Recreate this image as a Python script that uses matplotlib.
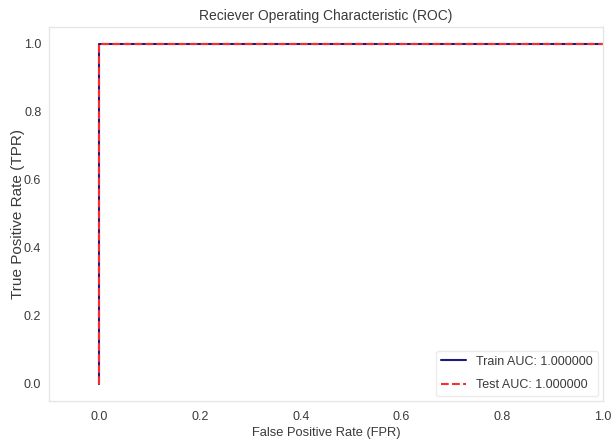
import matplotlib
matplotlib.use("Agg")
from matplotlib import pyplot as plt
import seaborn as sns

# ROC points
train_fpr = [0.0, 0.0, 1.0]
train_tpr = [0.0, 1.0, 1.0]
test_fpr = [0.0, 0.0, 1.0]
test_tpr = [0.0, 1.0, 1.0]
train_auc = 1.0
test_auc = 1.0

sns.set_style("white")
plt.rcParams['font.family'] = ['Liberation Sans', 'DejaVu Sans']
plt.rcParams['text.color'] = '#3a3a3a'
plt.rcParams['axes.labelcolor'] = '#3a3a3a'
plt.rcParams['xtick.color'] = '#3a3a3a'
plt.rcParams['ytick.color'] = '#3a3a3a'

fig = plt.figure(figsize=(6.12, 4.43), dpi=100)
ax = fig.add_axes([49 / 612, 1 - 401 / 443, 554 / 612, 374 / 443])

ax.plot(train_fpr, train_tpr, color='#1c1c7c', lw=1.5, label="Train AUC: %f" % train_auc)
ax.plot(test_fpr, test_tpr, color='#ff2a2a', lw=1.5, ls='--', label="Test AUC: %f" % test_auc)

ax.set_xlim(-0.1, 1.0)
ax.set_ylim(-0.05, 1.05)
ax.set_xticks([0.0, 0.2, 0.4, 0.6, 0.8, 1.0])
ax.set_yticks([0.0, 0.2, 0.4, 0.6, 0.8, 1.0])
ax.tick_params(labelsize=9, length=0)
ax.tick_params(axis='x', pad=7)
ax.tick_params(axis='y', pad=5.5)

for s in ax.spines.values():
    s.set_color('#e6e6e6')
    s.set_linewidth(1.0)

ax.set_title("Reciever Operating Characteristic (ROC)", fontsize=10, pad=5)
ax.set_xlabel("False Positive Rate (FPR)", fontsize=9.3, labelpad=3)
ax.set_ylabel("True Positive Rate (TPR)", fontsize=11)
ax.yaxis.set_label_coords(-0.044, 0.5)

leg = ax.legend(loc='lower right', fontsize=9, frameon=True, labelspacing=0.9,
                borderaxespad=0.4)
leg.get_frame().set_edgecolor('#e6e6e6')

fig.savefig("out.png", dpi=100)
